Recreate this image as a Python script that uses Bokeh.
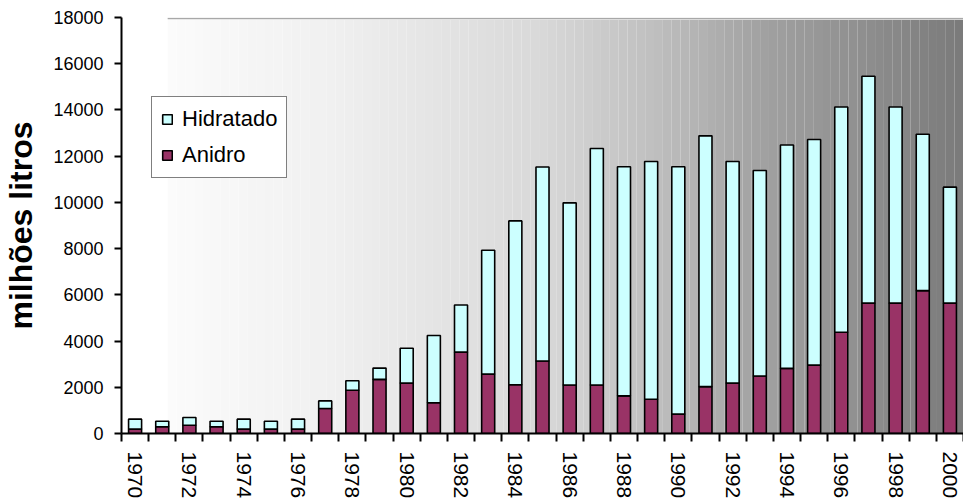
import numpy as np
from bokeh.plotting import figure
from bokeh.models import (ColumnDataSource, Range1d, FixedTicker, Legend, LegendItem)
from bokeh.embed import file_html
from bokeh.resources import INLINE

# ---- data (milhões de litros) ----
years = list(range(1970, 2001))
anidro = [190, 290, 360, 290, 190, 190, 190, 1080, 1870, 2340, 2180, 1330, 3520, 2570,
          2110, 3140, 2100, 2100, 1630, 1480, 840, 2030, 2180, 2490, 2820, 2960, 4380,
          5640, 5640, 6180, 5640]
total = [620, 530, 690, 530, 620, 530, 620, 1410, 2280, 2830, 3690, 4240, 5560, 7930,
         9200, 11530, 9980, 12330, 11540, 11770, 11540, 12880, 11770, 11380, 12480,
         12720, 14130, 15460, 14130, 12950, 10660]
hidratado = [t - a for t, a in zip(total, anidro)]
y_ticks = list(range(0, 18001, 2000))
x_label_years = list(range(1970, 2001, 2))

FONT = "Liberation Sans"
MAROON = "#993366"
CYAN = "#CCFFFF"

x_start, x_end = 1969.5, 2000.5

p = figure(width=963, height=502, output_backend="svg", toolbar_location=None,
           x_range=Range1d(x_start, x_end), y_range=Range1d(0, 18000),
           min_border_left=115, min_border_right=0, min_border_top=17,
           min_border_bottom=69)
p.outline_line_color = None
p.xgrid.visible = False
p.ygrid.visible = False
p.background_fill_color = "white"
p.border_fill_color = "white"

# ---- gradient plot-area background (decoration) ----
g_left, g_right, g_top = 1971.2, x_end, 17900
n = 90
edges = np.linspace(g_left, g_right, n + 1)
frac = (edges[:-1] + edges[1:]) / 2
frac = (frac - g_left) / (g_right - g_left)
stops_f = [0.0, 0.208, 0.471, 0.607, 0.743, 0.878, 1.0]
stops_v = [251, 240, 216, 192, 162, 142, 122]
vals = np.interp(frac, stops_f, stops_v).round().astype(int)
cols = ["#%02x%02x%02x" % (v, v, v) for v in vals]
p.quad(left=edges[:-1], right=edges[1:], bottom=0, top=g_top, fill_color=cols,
       line_color=None)
p.segment(x0=[g_left], y0=[17960], x1=[g_right], y1=[17960], line_color="#a8a8a8",
          line_width=1.5)

# ---- stacked bars ----
src = ColumnDataSource(dict(year=years, anidro=anidro, hidratado=hidratado))
rs = p.vbar_stack(["anidro", "hidratado"], x="year", width=0.48, source=src,
                  fill_color=[MAROON, CYAN], line_color="black", line_width=1.6)

legend = Legend(items=[LegendItem(label="Hidratado", renderers=[rs[1]]),
                       LegendItem(label="Anidro", renderers=[rs[0]])],
                location=(30, 255))
legend.label_text_font = FONT
legend.label_text_font_size = "22px"
legend.label_text_color = "black"
legend.glyph_width = 12
legend.glyph_height = 12
legend.label_standoff = 9
legend.spacing = 10
legend.padding = 9
legend.margin = 0
legend.border_line_color = "black"
legend.border_line_width = 1.5
legend.background_fill_color = "white"
legend.background_fill_alpha = 1.0
p.add_layout(legend, "center")

# ---- y axis ----
ya = p.yaxis[0]
ya.ticker = FixedTicker(ticks=y_ticks, minor_ticks=[])
ya.axis_line_width = 2
ya.axis_line_color = "black"
ya.major_tick_line_width = 2
ya.major_tick_out = 7
ya.major_tick_in = 0
ya.major_label_standoff = 11
ya.major_label_text_font = FONT
ya.major_label_text_font_size = "18px"
ya.major_label_text_color = "black"
ya.axis_label = "milhões litros"
ya.axis_label_text_font = FONT
ya.axis_label_text_font_size = "32px"
ya.axis_label_text_font_style = "bold"
ya.axis_label_text_color = "black"
ya.axis_label_standoff = 11

# ---- x axis: ticks at category boundaries, labels every other year ----
xa = p.xaxis[0]
xa.ticker = FixedTicker(ticks=x_label_years,
                        minor_ticks=[y - 0.5 for y in years] + [2000.5])
xa.major_label_overrides = {y: str(y) for y in x_label_years}
xa.axis_line_width = 2
xa.axis_line_color = "black"
xa.major_tick_out = 0
xa.major_tick_in = 0
xa.minor_tick_out = 8
xa.minor_tick_in = 0
xa.minor_tick_line_width = 2
xa.minor_tick_line_color = "black"
xa.major_label_orientation = "vertical"
xa.major_label_standoff = 10
xa.major_label_text_font = FONT
xa.major_label_text_font_size = "21px"
xa.major_label_text_color = "black"

open("out.html", "w").write(file_html(p, INLINE))
